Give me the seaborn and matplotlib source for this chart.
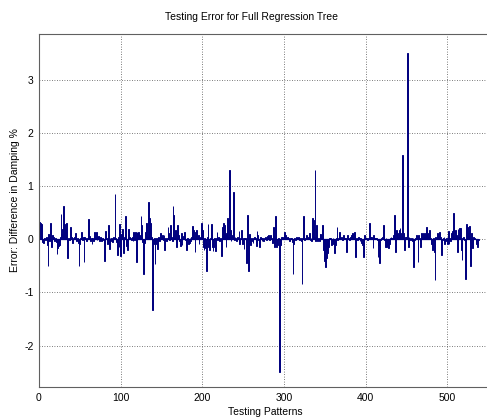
import matplotlib
matplotlib.use("Agg")
import matplotlib.pyplot as plt
import seaborn as sns
import numpy as np
import pandas as pd

# ---- data ----
errors = [
    0.33, 0.30, 0.28, -0.05, -0.03, -0.07, 0.02, -0.02, 0.04, -0.10,
    -0.50, 0.10, -0.04, 0.31, -0.15, -0.03, 0.08, 0.04, -0.03, 0.02,
    -0.05, -0.27, -0.17, -0.13, -0.10, 0.04, 0.48, 0.10, 0.20, 0.62,
    0.29, 0.20, 0.05, 0.30, -0.35, 0.02, -0.02, 0.03, 0.23, 0.05,
    -0.06, 0.03, 0.05, 0.02, 0.11, -0.03, 0.03, -0.06, -0.50, -0.09,
    0.03, 0.14, -0.02, 0.04, -0.42, 0.05, 0.02, -0.03, 0.03, 0.17,
    0.38, 0.06, -0.04, 0.03, -0.09, 0.02, -0.03, 0.13, 0.02, 0.13,
    -0.02, 0.05, 0.06, -0.04, 0.05, 0.03, -0.03, 0.02, -0.02, -0.40,
    0.16, 0.02, 0.03, -0.09, 0.27, -0.19, 0.03, -0.03, 0.02, -0.05,
    0.04, 0.02, 0.86, 0.03, -0.05, -0.30, 0.05, -0.14, 0.29, -0.32,
    0.10, 0.20, -0.25, 0.03, 0.05, 0.43, -0.13, -0.21, 0.03, 0.20,
    0.05, 0.03, -0.02, 0.04, -0.03, 0.14, -0.01, 0.14, -0.43, 0.14,
    0.11, 0.14, 0.08, 0.02, 0.43, 0.27, -0.05, -0.65, -0.06, 0.14,
    0.30, 0.31, 0.04, 0.71, 0.41, 0.05, 0.30, 0.05, -1.33, -0.08,
    0.03, -0.47, -0.09, 0.03, -0.19, 0.05, 0.02, -0.03, 0.11, 0.04,
    0.08, -0.02, 0.08, -0.21, 0.02, -0.03, 0.03, 0.24, 0.11, -0.02,
    0.27, 0.05, -0.03, 0.63, 0.46, 0.03, 0.18, -0.15, 0.02, 0.27,
    0.08, -0.03, -0.13, 0.11, -0.11, 0.02, 0.07, 0.14, -0.02, -0.15,
    -0.20, 0.03, -0.08, -0.06, 0.03, -0.04, 0.05, 0.25, 0.18, 0.03,
    -0.24, 0.14, 0.18, 0.02, 0.08, -0.08, 0.03, 0.05, 0.31, 0.18,
    -0.14, -0.20, 0.03, -0.17, -0.60, 0.04, 0.29, -0.14, -0.20, 0.03,
    0.29, -0.15, -0.22, -0.14, 0.03, -0.22, 0.02, 0.14, -0.02, 0.05,
    -0.04, 0.03, -0.31, 0.02, 0.24, 0.30, 0.27, 0.08, -0.14, 0.11,
    0.41, 0.05, 1.31, 0.18, -0.04, 0.05, 0.08, 0.90, -0.01, 0.05,
    0.02, -0.04, 0.05, 0.02, 0.16, -0.08, 0.03, 0.18, -0.09, 0.03,
    -0.19, 0.02, 0.02, -0.44, 0.46, 0.03, -0.60, 0.10, -0.11, 0.02,
    -0.04, -0.06, 0.02, 0.05, 0.02, -0.13, 0.16, 0.08, -0.02, -0.14,
    0.05, 0.02, -0.04, 0.03, -0.04, 0.02, 0.05, 0.02, -0.02, 0.06,
    0.08, -0.02, 0.08, 0.07, 0.03, -0.06, 0.24, -0.14, 0.05, 0.44,
    -0.15, -0.11, 0.03, -2.50, -0.14, -0.11, 0.05, 0.05, 0.03, 0.08,
    0.13, 0.08, 0.03, 0.05, 0.04, 0.02, -0.04, 0.03, 0.02, -0.05,
    -0.65, -0.09, 0.03, -0.01, 0.05, 0.02, 0.02, 0.04, -0.02, 0.02,
    -0.04, -0.85, 0.03, 0.44, -0.01, 0.02, 0.05, 0.08, 0.03, 0.04,
    0.11, -0.01, 0.03, -0.04, 0.40, 0.37, 0.05, 1.30, -0.04, 0.27,
    -0.03, 0.02, -0.04, 0.10, 0.10, 0.03, 0.27, -0.20, -0.30, -0.40,
    -0.53, -0.36, -0.25, -0.14, -0.04, 0.02, 0.03, -0.11, -0.04, 0.02,
    -0.09, -0.26, -0.11, 0.02, 0.24, -0.01, 0.03, 0.14, 0.02, 0.05,
    0.02, -0.02, 0.08, 0.02, 0.03, 0.02, -0.23, 0.08, 0.02, -0.01,
    0.05, 0.03, 0.08, 0.11, 0.02, 0.14, -0.01, -0.34, 0.02, -0.01,
    0.04, 0.02, -0.04, 0.02, -0.06, -0.11, -0.34, -0.31, 0.08, 0.03,
    0.02, -0.01, 0.03, 0.08, 0.30, 0.05, 0.05, 0.02, -0.17, 0.08,
    0.03, 0.02, 0.03, -0.01, -0.34, -0.11, -0.45, -0.01, 0.03, 0.02,
    0.04, 0.27, -0.01, -0.14, 0.02, -0.15, -0.11, -0.17, -0.08, 0.02,
    0.05, 0.02, 0.03, 0.08, 0.46, 0.03, -0.23, 0.18, 0.11, 0.05,
    0.18, 0.21, 0.05, 0.11, 1.59, 0.11, -0.14, -0.20, 0.05, 0.05,
    3.50, -0.14, 0.05, 0.02, -0.01, 0.02, -0.04, 0.02, -0.53, -0.01,
    0.03, 0.08, 0.02, -0.43, 0.08, 0.02, -0.14, 0.11, 0.05, 0.02,
    0.11, 0.05, 0.11, 0.24, 0.03, 0.11, 0.05, 0.18, 0.02, -0.01,
    -0.08, -0.20, 0.03, -0.23, -0.77, 0.05, 0.02, 0.11, 0.08, 0.14,
    0.02, 0.05, -0.30, -0.01, 0.03, 0.05, -0.08, -0.04, 0.02, -0.09,
    0.16, -0.08, 0.02, -0.04, 0.11, 0.16, 0.16, 0.50, 0.03, 0.18,
    0.08, -0.23, 0.19, 0.05, 0.21, 0.21, -0.20, -0.39, 0.02, 0.05,
    -0.01, -0.75, 0.29, 0.05, 0.24, 0.11, 0.25, -0.50, 0.03, 0.11,
    -0.17, 0.05, 0.02, 0.00, -0.01, -0.08, -0.14, -0.01,
]
patterns = list(range(1, len(errors) + 1))
x_ticks = [0, 100, 200, 300, 400, 500]
y_ticks = [-2, -1, 0, 1, 2, 3]
y_tick_labels = ["-2", "-1", "0", "1", "2", "3"]

df = pd.DataFrame({"pattern": patterns, "error": errors})

# ---- style ----
sns.set_style("white")
plt.rcParams["font.family"] = ["Liberation Sans", "DejaVu Sans"]
plt.rcParams["text.color"] = "black"

W, H = 487, 419
fig = plt.figure(figsize=(W / 100, H / 100), dpi=100)
ax_left, ax_right, ax_top, ax_bottom = 39, 529, 34.3, 387
ax = fig.add_axes([ax_left / W, 1 - ax_bottom / H,
                   (ax_right - ax_left) / W, (ax_bottom - ax_top) / H])

navy = "#00007F"
sns.barplot(data=df, x="pattern", y="error", native_scale=True, width=1.0,
            color=navy, saturation=1, errorbar=None, edgecolor=navy,
            linewidth=0.7, ax=ax)
ax.hlines(0, df["pattern"].min(), df["pattern"].max(), color=navy, lw=0.9, zorder=3)

ax.set_xlim(0, 600)
ax.set_ylim(-2.78, 3.86)
ax.set_xticks(x_ticks)
ax.set_yticks(y_ticks)
ax.set_yticklabels(y_tick_labels)
ax.tick_params(direction="in", length=3, width=0.6, color="#404040",
               labelsize=7.5, labelcolor="black", pad=4)
ax.grid(True, linestyle=(0, (1, 2)), color="#505050", linewidth=0.6)
ax.set_axisbelow(True)
for side in ["left", "top", "right", "bottom"]:
    ax.spines[side].set_color("#606060")
    ax.spines[side].set_linewidth(0.8)
ax.set_xlabel("")
ax.set_ylabel("")

fig.text(251.5 / W, 1 - 17 / H, "Testing Error for Full Regression Tree",
         ha="center", va="center", fontsize=7.5, color="black")
fig.text(265.5 / W, 1 - 412 / H, "Testing Patterns",
         ha="center", va="center", fontsize=7.5, color="black")
fig.text(15 / W, 1 - 200 / H, "Error: Difference in Damping %",
         ha="center", va="center", rotation=90, fontsize=7.5, color="black")

fig.savefig("out.png", dpi=100)
